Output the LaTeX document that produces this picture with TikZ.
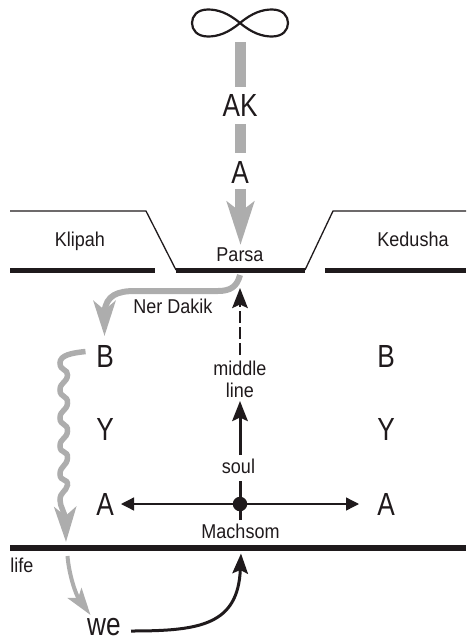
\documentclass[tikz,border=0pt]{standalone}
\usepackage{fontspec}
\setmainfont[FakeStretch=0.9]{Liberation Sans}
\newfontfamily\bigf[FakeStretch=0.82]{Liberation Sans}
\usetikzlibrary{arrows.meta}
\definecolor{gr}{HTML}{ADADAD}
\definecolor{ink}{HTML}{1F1A1C}
\tikzset{
 lab/.style={anchor=base,inner sep=0pt,outer sep=0pt,text=ink,font=\fontsize{20}{20}\selectfont},
 big/.style={anchor=base,inner sep=0pt,outer sep=0pt,text=ink,font=\bigf\fontsize{32}{32}\selectfont},
 thin/.style={draw=ink,line width=1.3pt},
 thick/.style={draw=ink,line width=4.3pt},
 bar/.style={draw=gr,line width=11pt},
 blk/.style={draw=ink,-{Stealth[length=20pt,width=15.5pt,inset=3.5pt]}},
}
\begin{document}
\begin{tikzpicture}[x=1pt,y=-1pt]
\useasboundingbox (0,0) rectangle (466,640);
% labels
\node[big] (ak) at (240,116) {AK};
\node[big] (atop) at (240,183) {A};
\node[lab] (klipah) at (80,246) {Klipah};
\node[lab] (kedusha) at (413,246) {Kedusha};
\node[lab] (parsa) at (240,261) {Parsa};
\node[lab] (ner) at (173,313) {Ner Dakik};
\node[big] (bl) at (105,367) {B};
\node[big] (yl) at (105,440) {Y};
\node[big] (al) at (105,515) {A};
\node[big] (br) at (386,367) {B};
\node[big] (yr) at (386,440) {Y};
\node[big] (ar) at (386,515) {A};
\node[lab] (middle) at (240,375) {middle};
\node[lab] (linew) at (240,397) {line};
\node[lab] (soul) at (238.5,473) {soul};
\node[lab] (machsom) at (240.5,538) {Machsom};
\node[lab] (life) at (22,572) {life};
\node[big] (we) at (104,635.5) {we};
% infinity
\draw[ink,line width=2.2pt] (240,23) .. controls (228,13) and (218,9.5) .. (208,9.5)
  .. controls (197,9.5) and (192,16) .. (192,23) .. controls (192,30) and (197,36.5) .. (208,36.5)
  .. controls (218,36.5) and (228,33) .. (240,23) .. controls (252,13) and (262,9.5) .. (272,9.5)
  .. controls (283,9.5) and (288,16) .. (288,23) .. controls (288,30) and (283,36.5) .. (272,36.5)
  .. controls (262,36.5) and (252,33) .. (240,23) -- cycle;
% upper light
\coordinate (b1) at (240.5,42); \coordinate (b2) at (240.5,87);
\coordinate (b3) at (240.5,124); \coordinate (b4) at (240.5,153);
\coordinate (b5) at (240.5,189); \coordinate (b6) at (240.5,245);
\draw[bar] (b1)--(b2);
\draw[bar] (b3)--(b4);
\draw[draw=gr,line width=11pt,-{Stealth[length=43pt,width=27pt,inset=10pt]}] (b5)--(b6);
% ground lines
\coordinate (l1) at (10,211); \coordinate (l2) at (146,211); \coordinate (l3) at (176,270);
\coordinate (r1) at (466,211); \coordinate (r2) at (333,211); \coordinate (r3) at (305,270);
\draw[thin] (l1)--(l2)--(l3);
\draw[thin] (r1)--(r2)--(r3);
\coordinate (t1) at (10,270.5); \coordinate (t2) at (155,270.5);
\coordinate (t3) at (176,270.5); \coordinate (t4) at (305,270.5);
\coordinate (t5) at (325,270.5); \coordinate (t6) at (466,270.5);
\draw[thick] (t1)--(t2);
\draw[thick] (t3)--(t4);
\draw[thick] (t5)--(t6);
% ner dakik
\coordinate (n1) at (240,275); \coordinate (n2) at (104.5,336);
\draw[draw=gr,line width=6pt,-{Stealth[length=35pt,width=22pt,inset=9pt]}] (n1) .. controls (237,287) and (230,291) .. (218,291)
  -- (135,291) .. controls (118,291) and (106,295) .. (104.5,312) -- (n2);
% wavy
\coordinate (w1) at (85.5,351.5); \coordinate (w2) at (66,542);
\draw[draw=gr,line width=5.5pt,-{Stealth[length=35pt,width=22pt,inset=9pt]}] (w1) .. controls (72,353) and (60,355) .. (60,363)
  .. controls (60,371) and (68,369) .. (67.5,375)
  .. controls (67,383) and (60,382) .. (60,390)
  .. controls (60,398) and (68,395) .. (67.5,403)
  .. controls (67,411) and (60,410) .. (60,418)
  .. controls (60,426) and (68,423) .. (67.5,431)
  .. controls (67,439) and (60,438) .. (60,446)
  .. controls (60,454) and (68,450) .. (67.5,458)
  .. controls (67,466) and (60,466) .. (60,474)
  .. controls (60,482) and (68,478) .. (67.5,485)
  .. controls (66,492) and (60,492) .. (60,500)
  .. controls (60,507) and (65,512) .. (65.5,520) -- (w2);
% thick base
\coordinate (g1) at (10,548); \coordinate (g2) at (466,548);
\draw[draw=ink,line width=6pt] (g1)--(g2);
% lower grey
\coordinate (q1) at (67.5,556); \coordinate (q2) at (90.5,615);
\draw[draw=gr,line width=4pt,-{Stealth[length=27pt,width=17pt,inset=6pt]}] (q1) .. controls (69,575) and (76,595) .. (q2);
% we to life
\coordinate (e1) at (131,631); \coordinate (e2) at (241,553.5);
\draw[blk,line width=3pt] (e1) .. controls (200,631) and (238,625) .. (e2);
% middle axis
\coordinate (m0) at (240,520); \coordinate (m1) at (240,481);
\coordinate (m2) at (240,455); \coordinate (m3) at (240,401);
\coordinate (m4) at (240,355); \coordinate (m5) at (240,288);
\draw[draw=ink,line width=3pt] (m0)--(m1);
\draw[blk,line width=3pt] (m2)--(m3);
\draw[blk,line width=2.6pt,dash pattern=on 12pt off 4pt] (m4)--(m5);
\coordinate (c) at (240,504);
\draw[draw=ink,line width=1.3pt,{Stealth[length=13pt,width=13pt,inset=0pt]}-{Stealth[length=13pt,width=13pt,inset=0pt]}] (121,504) -- (359,504);
\node[circle,fill=ink,minimum size=14.5pt,inner sep=0pt] (dot) at (c) {};
\end{tikzpicture}
\end{document}
